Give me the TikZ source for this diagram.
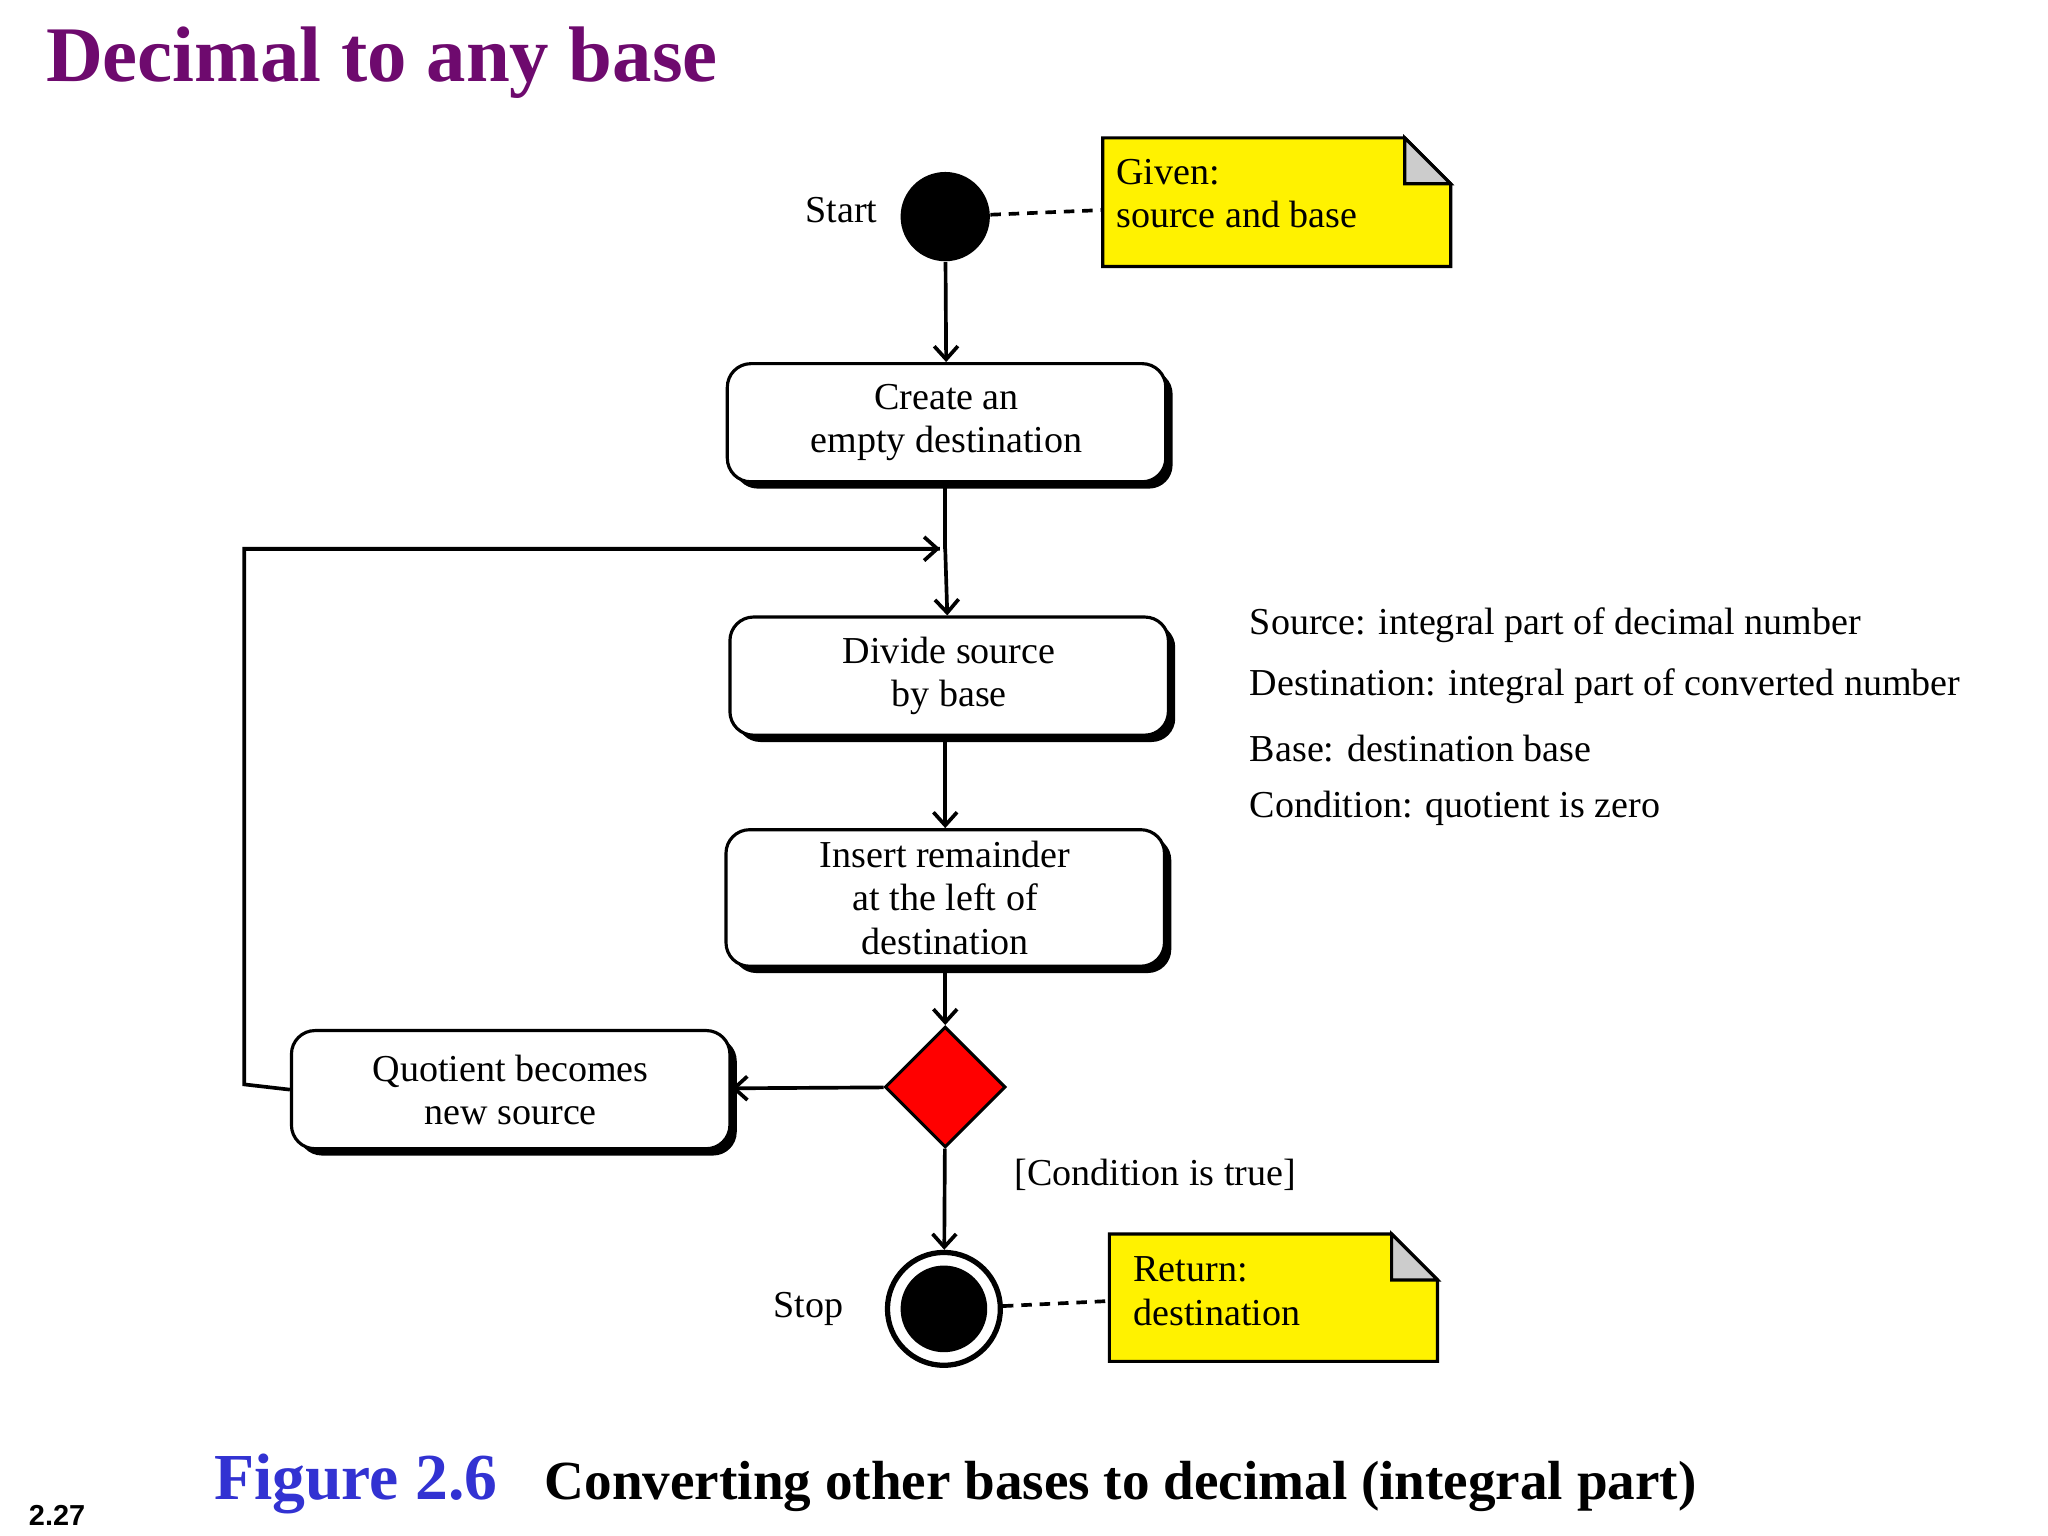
\documentclass[tikz,border=0pt]{standalone}
\usepackage{fontspec}
\setmainfont{Liberation Serif}
\newfontfamily\sansf{Liberation Sans}
\usetikzlibrary{arrows.meta,shapes.geometric,shadows}
\definecolor{ttl}{RGB}{110,10,110}
\definecolor{figb}{RGB}{50,50,210}
\begin{document}
\begin{tikzpicture}[x=0.5pt,y=-0.5pt,
  txt/.style={font=\fontsize{14.5}{16.5}\selectfont},
  act/.style={draw,line width=1.2pt,rounded corners=9pt,fill=white,minimum width=167pt,align=center,txt,
    drop shadow={shadow xshift=2.6pt,shadow yshift=-2.6pt,opacity=1,fill=black}},
  con/.style={line width=1.4pt,-{Straight Barb[length=5pt,width=9pt,line width=1.4pt]}},
  dsh/.style={line width=1.4pt,dash pattern=on 4pt off 3pt},
  note/.style={fill=yellow,draw,line width=1.2pt}]
\useasboundingbox (0,0) rectangle (1560,1170);
\node[anchor=west,font=\fontsize{30}{34}\selectfont\bfseries,text=ttl] (title) at (28,48) {Decimal to any base};
% start
\node[circle,fill=black,minimum size=34pt,inner sep=0] (start) at (720,165) {};
\node[txt] (startl) at (641,160) {Start};
% note1
\draw[note] (840,105) -- (1070,105) -- (1105,140) -- (1105,203) -- (840,203) -- cycle;
\draw[line width=1.2pt,fill=gray!40] (1070,105) -- (1070,140) -- (1105,140) -- cycle;
\node[txt,anchor=north west,align=left,inner sep=0] (n1) at (850,121) {Given:\\source and base};
\coordinate (n1w) at (840,160);
\draw[dsh] (start) -- (n1w);
% boxes
\node[act,minimum height=45pt] (b1) at (721,322) {Create an\\empty destination};
\node[act,minimum height=45pt] (b2) at (723,515) {Divide source\\by base};
\node[act,minimum height=52pt] (b3) at (720,684) {Insert remainder\\at the left of\\destination};
\node[diamond,fill=red,draw,line width=1.2pt,minimum size=46pt,inner sep=0] (d) at (720,828) {};
\node[act,minimum height=45pt] (b4) at (389,830) {Quotient becomes\\new source};
% stop
\node[circle,draw,line width=2pt,fill=white,minimum size=43pt,inner sep=0] (stop) at (719,997) {};
\node[circle,fill=black,minimum size=33pt,inner sep=0] (stopin) at (719,997) {};
\node[txt] (stopl) at (616,997) {Stop};
\draw[note] (845,940) -- (1060,940) -- (1095,975) -- (1095,1037) -- (845,1037) -- cycle;
\draw[line width=1.2pt,fill=gray!40] (1060,940) -- (1060,975) -- (1095,975) -- cycle;
\node[txt,anchor=north west,align=left,inner sep=0] (n2) at (863,957) {Return:\\destination};
\coordinate (n2w) at (845,991);
\draw[dsh] (stop) -- (n2w);
% connectors
\draw[con] (start) -- (b1);
\coordinate (j) at (720,418);
\draw[line width=1.4pt] (b1.south -| j) -- (j);
\draw[con] (j) -- (b2);
\draw[con] (b2.south -| b3) -- (b3);
\draw[con] (b3) -- (d);
\draw[con] (d) -- (b4);
\draw[con] (d) -- (stop);
\coordinate (c1) at (186,826);
\coordinate (c2) at (186,418);
\coordinate (c3) at (716,418);
\draw[line width=1.4pt] (b4.west) -- (c1) -- (c2) -- (c3);
\draw[con] (c2) -- (c3);
\node[txt] (cond) at (880,895) {[Condition is true]};
% legend
\node[txt,anchor=west] (l1) at (945,476) {Source: integral part of decimal number};
\node[txt,anchor=west] (l2) at (945,523) {Destination: integral part of converted number};
\node[txt,anchor=west] (l3) at (945,570) {Base: destination base};
\node[txt,anchor=west] (l4) at (945,616) {Condition: quotient is zero};
% caption
\node[anchor=base west,font=\fontsize{25}{28}\selectfont\bfseries,text=figb] (fig) at (156,1142) {Figure 2.6};
\node[anchor=base west,font=\fontsize{21}{24}\selectfont\bfseries] (cap) at (408,1142) {Converting other bases to decimal (integral part)};
\node[anchor=base west,font=\sansf\fontsize{11}{13}\selectfont\bfseries] (pg) at (15,1162) {2.27};
\end{tikzpicture}
\end{document}
